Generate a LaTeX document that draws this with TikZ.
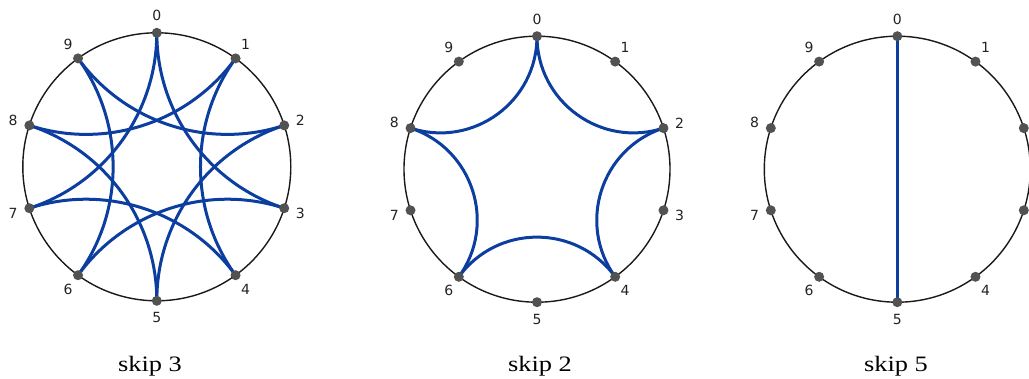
\documentclass[tikz,border=0pt]{standalone}
\usepackage{fontspec}
\setmainfont{Liberation Serif}
\newfontfamily\labfont{DejaVu Sans}
\newfontfamily\capfont{Liberation Serif}
\definecolor{chordblue}{RGB}{12,62,160}
\definecolor{dotgray}{RGB}{82,82,82}
\definecolor{labgray}{RGB}{35,35,35}
\tikzset{
  vdot/.style={circle, fill=dotgray, draw=none, inner sep=0pt, minimum size=10pt},
  vlabel/.style={font=\labfont\fontsize{14}{16}\selectfont, text=labgray, inner sep=0pt},
  rim/.style={draw=black!90, line width=1.4pt},
  chord/.style={draw=chordblue, line width=3pt},
  caption/.style={font=\capfont\fontsize{22}{26}\selectfont, inner sep=0pt, anchor=base}
}
\begin{document}
\begin{tikzpicture}[x=1pt,y=1pt]
\useasboundingbox (0,0) rectangle (1029,378);
\clip (0,0) rectangle (1029,378);

% ---------- skip 3 ----------
\begin{scope}[shift={(156.8,211.2)}]
  \coordinate (oa) at (0,0);
  \foreach \k in {0,...,9} { \coordinate (a\k) at ({90-36*\k}:134); }
  \draw[rim] (oa) circle[radius=134];
  \foreach \i in {0,...,9} {
    \pgfmathtruncatemacro\j{mod(\i+3,10)}
    \draw[chord] (a\i) to[out={270-36*\i}, in={270-36*\j}, looseness=0.941] (a\j);
  }
  \foreach \k in {0,...,9} {
    \node[vdot] (da\k) at (a\k) {};
    \node[vlabel] (la\k) at ({90-36*\k}:151) {\k};
  }
\end{scope}
\node[caption] (capa) at (150,7) {\scalebox{1.2}[1]{skip 3}};

% ---------- skip 2 ----------
\begin{scope}[shift={(537,208.8)}]
  \coordinate (ob) at (0,0);
  \foreach \k in {0,...,9} { \coordinate (b\k) at ({90-36*\k}:133); }
  \draw[rim] (ob) circle[radius=133];
  \foreach \i in {0,2,4,6,8} {
    \pgfmathtruncatemacro\j{mod(\i+2,10)}
    \draw[chord] (b\i) to[out={270-36*\i}, in={270-36*\j}, looseness=1.0725] (b\j);
  }
  \foreach \k in {0,...,9} {
    \node[vdot] (db\k) at (b\k) {};
    \node[vlabel] (lb\k) at ({90-36*\k}:150) {\k};
  }
\end{scope}
\node[caption] (capb) at (540,7) {\scalebox{1.2}[1]{skip 2}};

% ---------- skip 5 ----------
\begin{scope}[shift={(897.3,208.8)}]
  \coordinate (oc) at (0,0);
  \foreach \k in {0,...,9} { \coordinate (c\k) at ({90-36*\k}:133); }
  \draw[rim] (oc) circle[radius=133];
  \draw[chord] (c0) -- (c5);
  \foreach \k in {0,...,9} {
    \node[vdot] (dc\k) at (c\k) {};
  }
  \foreach \k in {0,1,4,5,6,7,8,9} {
    \node[vlabel] (lc\k) at ({90-36*\k}:150) {\k};
  }
\end{scope}
\node[caption] (capc) at (896,7) {\scalebox{1.2}[1]{skip 5}};
\end{tikzpicture}
\end{document}
